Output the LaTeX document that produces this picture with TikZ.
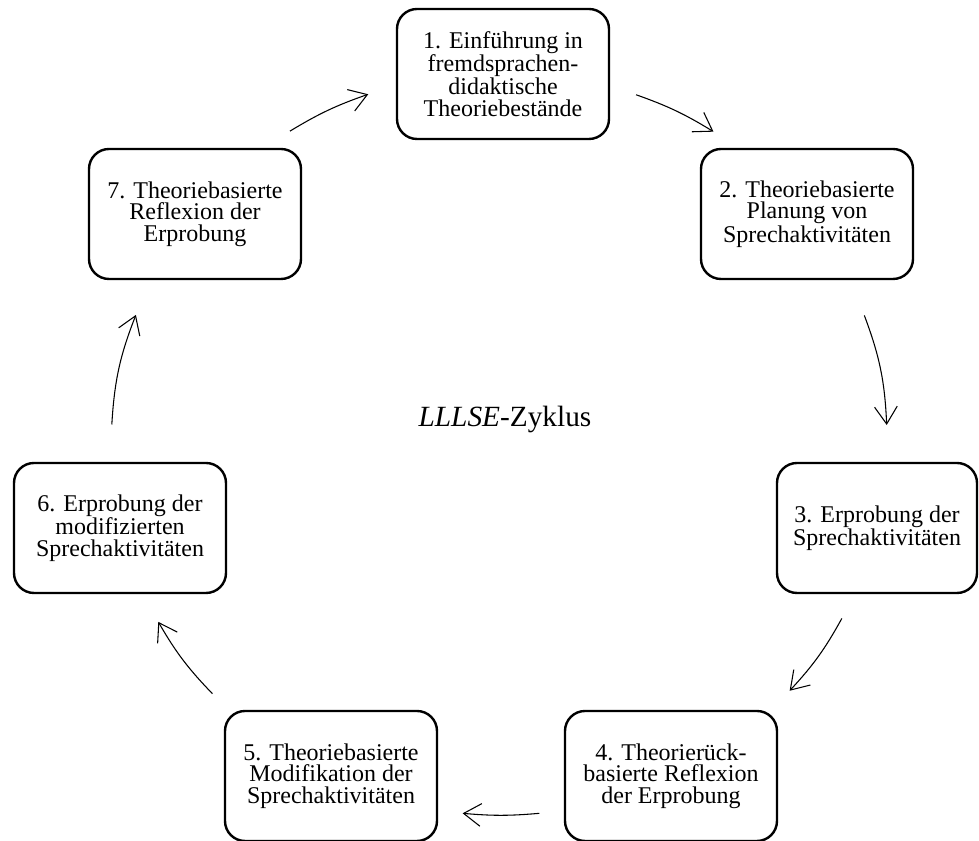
\documentclass[tikz,border=0pt]{standalone}
\usepackage{fontspec}
\setmainfont{Liberation Serif}
\usetikzlibrary{arrows.meta}

\tikzset{
  stage/.style={draw, line width=1.8pt, rounded corners=15pt, minimum width=159pt,
    minimum height=97.5pt, align=center, inner sep=2pt,
    font=\fontsize{18}{16.2}\selectfont},
  ring/.style={bend left=26, looseness=0.9},
  flow/.style={line width=0.8pt, -{Straight Barb[length=13pt,width=17pt]}}
}

\begin{document}
\begin{tikzpicture}[x=0.75pt, y=0.75pt]
    \useasboundingbox (0,0) rectangle (979,841);

    \node [stage] (n1) at (503,767) {1. Einführung in\\fremdsprachen-\\didaktische\\Theoriebestände};
    \node [stage] (n2) at (807,627) {2. Theoriebasierte\\Planung von\\Sprechaktivitäten};
    \node [stage, minimum width=150pt] (n3) at (877,313) {3. Erprobung der\\Sprechaktivitäten};
    \node [stage] (n4) at (671,65) {4. Theorierück-\\basierte Reflexion\\der Erprobung};
    \node [stage] (n5) at (331,65) {5. Theoriebasierte\\Modifikation der\\Sprechaktivitäten};
    \node [stage] (n6) at (120,313) {6. Erprobung der\\modifizierten\\Sprechaktivitäten};
    \node [stage] (n7) at (195,627) {7. Theoriebasierte\\Reflexion der\\Erprobung};

    \node [font=\fontsize{22}{25}\selectfont] (title) at (505,421) {\textit{LLLSE}-Zyklus};

    % arrows sit on the ring through the box centres
    \path (n1.center) to[ring] coordinate[pos=0.39] (a12) coordinate[pos=0.64] (b12) (n2.center);
    \path (n2.center) to[ring] coordinate[pos=0.35] (a23) coordinate[pos=0.69] (b23) (n3.center);
    \path (n3.center) to[ring] coordinate[pos=0.29] (a34) coordinate[pos=0.56] (b34) (n4.center);
    \path (n4.center) to[ring] coordinate[pos=0.39] (a45) coordinate[pos=0.61] (b45) (n5.center);
    \path (n5.center) to[ring] coordinate[pos=0.43] (a56) coordinate[pos=0.70] (b56) (n6.center);
    \path (n6.center) to[ring] coordinate[pos=0.31] (a67) coordinate[pos=0.65] (b67) (n7.center);
    \path (n7.center) to[ring] coordinate[pos=0.36] (a71) coordinate[pos=0.61] (b71) (n1.center);

    \draw [flow] (a12) to[bend left=6] (b12);
    \draw [flow] (a23) to[bend left=9] (b23);
    \draw [flow] (a34) to[bend left=7] (b34);
    \draw [flow] (a45) to[bend left=5] (b45);
    \draw [flow] (a56) to[bend left=7] (b56);
    \draw [flow] (a67) to[bend left=9] (b67);
    \draw [flow] (a71) to[bend left=6] (b71);
\end{tikzpicture}
\end{document}
